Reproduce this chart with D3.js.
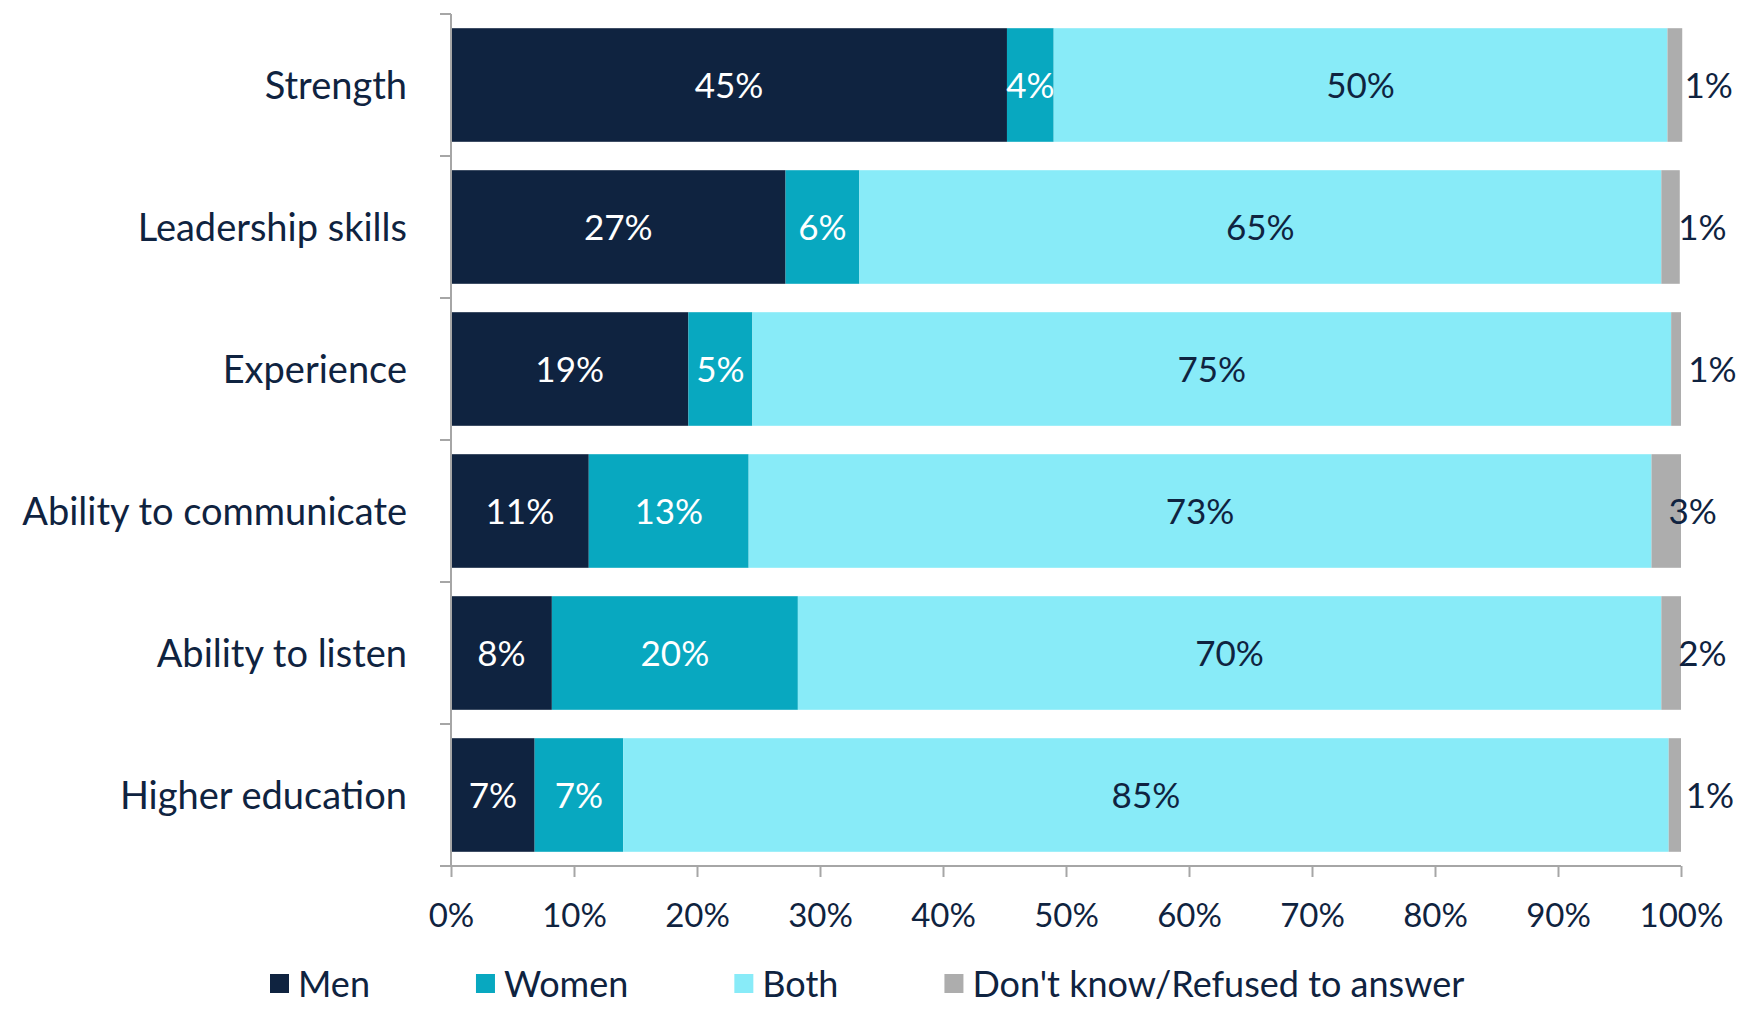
<!DOCTYPE html>
<html>
<head>
<meta charset="utf-8">
<script src="https://cdn.jsdelivr.net/npm/d3@7"></script>
<style>
  body { margin: 0; background: #fff; }
  text { font-family: Lato, "Open Sans", sans-serif; fill: #0F2340; }
  .axis path, .axis line { stroke: #A6A6A6; stroke-width: 2; }
</style>
</head>
<body>
<div id="chart"></div>
<script>
// categories and series (percent)
var categories = ["Strength", "Leadership skills", "Experience", "Ability to communicate", "Ability to listen", "Higher education"];
var seriesNames = ["Men", "Women", "Both", "Don't know/Refused to answer"];
var men      = [45.2, 27.2, 19.3, 11.2, 8.2, 6.8];
var women    = [3.8, 6.0, 5.2, 13.0, 20.0, 7.2];
var both     = [49.9, 65.2, 74.7, 73.4, 70.2, 85.0];
var dontKnow = [1.2, 1.5, 0.8, 2.4, 1.6, 1.0];
var labelMen      = ["45%", "27%", "19%", "11%", "8%", "7%"];
var labelWomen    = ["4%", "6%", "5%", "13%", "20%", "7%"];
var labelBoth     = ["50%", "65%", "75%", "73%", "70%", "85%"];
var labelDontKnow = ["1%", "1%", "1%", "3%", "2%", "1%"];
var xTicks = [0, 10, 20, 30, 40, 50, 60, 70, 80, 90, 100];

var colors = ["#0F2340", "#08A8C0", "#88EBF8", "#ADADAD"];
var labelColors = ["#ffffff", "#ffffff", "#0F2340", "#0F2340"];

var width = 1739, height = 1009;
var margin = {top: 14, right: 58, bottom: 143, left: 451};

var svg = d3.select("#chart").append("svg")
    .attr("width", width)
    .attr("height", height);

var x = d3.scaleLinear()
    .domain([0, 100])
    .range([margin.left, width - margin.right]);

var y = d3.scaleBand()
    .domain(categories)
    .range([margin.top, height - margin.bottom])
    .paddingInner(0.2)
    .paddingOuter(0.1);

// build stacked rows
var values = [men, women, both, dontKnow];
var labels = [labelMen, labelWomen, labelBoth, labelDontKnow];
var rows = categories.map(function(c, i) {
    var row = {cat: c};
    seriesNames.forEach(function(s, j) { row[s] = values[j][i]; });
    return row;
});
var stack = d3.stack().keys(seriesNames)(rows);

stack.forEach(function(layer, j) {
    var g = svg.append("g");
    g.selectAll("rect")
        .data(layer)
        .enter().append("rect")
        .attr("x", function(d) { return x(d[0]); })
        .attr("y", function(d) { return y(d.data.cat); })
        .attr("width", function(d) { return x(d[1]) - x(d[0]); })
        .attr("height", y.bandwidth())
        .attr("fill", colors[j]);

    g.selectAll("text")
        .data(layer)
        .enter().append("text")
        .attr("x", function(d) {
            if (j == 3) return x(d[0]) + 17;
            return (x(d[0]) + x(d[1])) / 2;
        })
        .attr("y", function(d) { return y(d.data.cat) + y.bandwidth() / 2; })
        .attr("dy", "0.36em")
        .attr("text-anchor", j == 3 ? "start" : "middle")
        .style("font-size", "35px")
        .style("fill", labelColors[j])
        .text(function(d, i) { return labels[j][i]; });
});

// y axis: line with ticks on band boundaries
var yAxisG = svg.append("g").attr("class", "axis");
yAxisG.append("line")
    .attr("x1", x(0)).attr("x2", x(0))
    .attr("y1", margin.top).attr("y2", height - margin.bottom);
var bounds = categories.map(function(c) { return y(c) - y.step() * y.paddingInner() / 2; });
bounds[0] = margin.top;
bounds.push(height - margin.bottom);
yAxisG.selectAll(".tk")
    .data(bounds)
    .enter().append("line")
    .attr("x1", x(0) - 11).attr("x2", x(0))
    .attr("y1", function(d) { return d; })
    .attr("y2", function(d) { return d; });

yAxisG.selectAll(".cat")
    .data(categories)
    .enter().append("text")
    .attr("x", x(0) - 44)
    .attr("y", function(d) { return y(d) + y.bandwidth() / 2; })
    .attr("dy", "0.36em")
    .attr("text-anchor", "end")
    .style("font-size", "38px")
    .text(function(d) { return d; });

// x axis
var xAxis = d3.axisBottom(x)
    .tickValues(xTicks)
    .tickSize(11)
    .tickPadding(27)
    .tickFormat(function(d) { return d + "%"; });

var xg = svg.append("g")
    .attr("class", "axis")
    .attr("transform", "translate(0," + (height - margin.bottom) + ")")
    .call(xAxis);
xg.select(".domain").attr("d", "M" + (x(0) - 11) + ",0H" + x(100));
xg.selectAll("text")
    .style("font-size", "33px")
    .style("fill", "#0F2340")
    .attr("font-family", null);

// legend
var legend = svg.append("g").attr("transform", "translate(270,984)");
var lx = 0;
seriesNames.forEach(function(s, j) {
    legend.append("rect")
        .attr("x", lx).attr("y", -10)
        .attr("width", 19).attr("height", 19)
        .attr("fill", colors[j]);
    var t = legend.append("text")
        .attr("x", lx + 28)
        .attr("y", 0)
        .attr("dy", "0.36em")
        .style("font-size", "36px")
        .text(s);
    lx += 28 + t.node().getComputedTextLength() + 106;
});
</script>
</body>
</html>
